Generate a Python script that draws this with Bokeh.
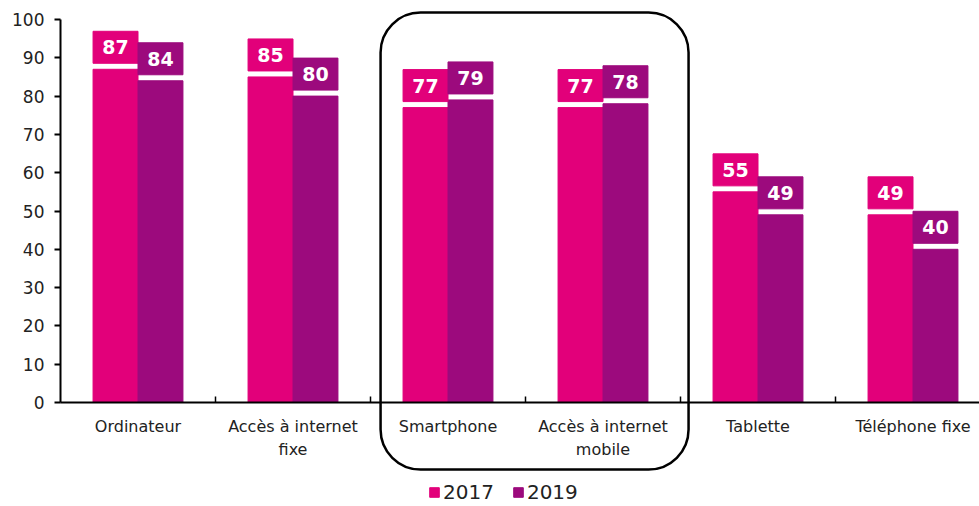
from bokeh.plotting import figure
from bokeh.models import (Range1d, FixedTicker, BoxAnnotation, Legend, LegendItem)
from bokeh.core.properties import value
from bokeh.embed import file_html
from bokeh.resources import INLINE

categories = ["Ordinateur", "Accès à internet\nfixe", "Smartphone",
              "Accès à internet\nmobile", "Tablette", "Téléphone fixe"]
years = ["2017", "2019"]
v2017 = [87, 85, 77, 77, 55, 49]
v2019 = [84, 80, 79, 78, 49, 40]
y_ticks = [0, 10, 20, 30, 40, 50, 60, 70, 80, 90, 100]

C17 = "#E2007A"
C19 = "#9C0A7D"
FONT = "DejaVu Sans"

W, H = 979, 506
ppu = 3.83          # pixels per y unit
cat_px = 155.0      # pixels per category
x0_px = 60          # y axis position inside the figure
y0_px = 402         # x axis position inside the figure (from top)

x_lo = -x0_px / cat_px
x_hi = (W - x0_px) / cat_px
y_lo = -(H - y0_px) / ppu
y_hi = y0_px / ppu

p = figure(width=W, height=H, output_backend="svg", toolbar_location=None,
           x_range=Range1d(x_lo, x_hi), y_range=Range1d(y_lo, y_hi),
           min_border=0)
p.outline_line_color = None
p.xgrid.grid_line_color = None
p.ygrid.grid_line_color = None
p.background_fill_color = "white"
p.border_fill_color = "white"

n = len(categories)
centers = [i + 0.5 for i in range(n)]
off, bw = 0.145, 0.29
x17 = [c - off for c in centers]
x19 = [c + off for c in centers]

r17 = p.vbar(x=x17, top=v2017, width=bw, fill_color=C17, line_color=C17)
r19 = p.vbar(x=x19, top=v2019, width=bw, fill_color=C19, line_color=C19)

# value label boxes
gap = 6 / ppu
bh = 32 / ppu
for xs, vals, col in ((x17, v2017, C17), (x19, v2019, C19)):
    yc = [v + gap + bh / 2 for v in vals]
    p.rect(x=xs, y=yc, width=bw, height=bh, fill_color=col, line_color=col)
    p.text(x=xs, y=yc, text=[str(v) for v in vals], text_align="center",
           text_baseline="middle", text_color="white",
           text_font=value(FONT), text_font_style="bold", text_font_size="19px")

# rounded highlight box around Smartphone / mobile internet
box = BoxAnnotation(left=2.065, right=4.052, top=101.8, bottom=-17.5,
                    fill_alpha=0, line_color="black", line_alpha=1,
                    line_width=2.5, border_radius=40)
p.add_layout(box)

# axes
p.yaxis.fixed_location = 0
p.yaxis.bounds = (0, 100)
p.yaxis.ticker = FixedTicker(ticks=y_ticks)
p.yaxis.major_tick_in = 0
p.yaxis.major_tick_out = 6
p.yaxis.minor_tick_line_color = None
p.yaxis.axis_line_width = 2
p.yaxis.major_tick_line_width = 2
p.yaxis.major_label_standoff = 10
p.yaxis.major_label_text_font = FONT
p.yaxis.major_label_text_font_size = "17px"
p.yaxis.major_label_text_color = "#222222"

p.xaxis.fixed_location = 0
p.xaxis.bounds = (0, x_hi)
p.xaxis.ticker = FixedTicker(ticks=centers, minor_ticks=[1, 2, 3, 4, 5])
p.xaxis.major_label_overrides = {c: lab for c, lab in zip(centers, categories)}
p.xaxis.major_tick_in = 0
p.xaxis.major_tick_out = 0
p.xaxis.minor_tick_in = 6
p.xaxis.minor_tick_out = 0
p.xaxis.minor_tick_line_width = 1.5
p.xaxis.axis_line_width = 2
p.xaxis.major_label_standoff = 14
p.xaxis.major_label_text_font = FONT
p.xaxis.major_label_text_font_size = "16px"
p.xaxis.major_label_text_color = "#222222"
p.xaxis.major_label_text_line_height = 1.25

legend = Legend(items=[LegendItem(label=years[0], renderers=[r17]),
                       LegendItem(label=years[1], renderers=[r19])],
                orientation="horizontal", location=(428, 2),
                glyph_width=12, glyph_height=12, label_standoff=3, spacing=18,
                label_text_font=FONT, label_text_font_size="20px",
                label_text_color="#222222", border_line_color=None,
                background_fill_alpha=0, padding=0, margin=0)
p.add_layout(legend)

open("out.html", "w").write(file_html(p, INLINE))
